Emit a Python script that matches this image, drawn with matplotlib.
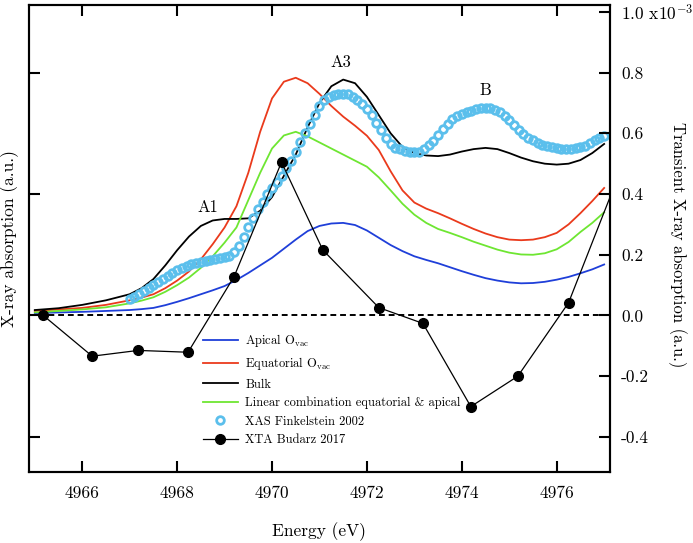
import numpy as np
import matplotlib
matplotlib.use("Agg")
import matplotlib.pyplot as plt

plt.rcParams['font.family'] = 'serif'
plt.rcParams['font.serif'] = ['cmr10', 'DejaVu Serif']
plt.rcParams['mathtext.fontset'] = 'cm'
plt.rcParams['axes.unicode_minus'] = False
plt.rcParams['axes.formatter.use_mathtext'] = True

# simulated spectra (left axis, a.u.)
e_calc = [4965.0, 4965.5, 4966.0, 4966.5, 4967.0, 4967.25, 4967.5, 4967.75, 4968.0, 4968.25,
          4968.5, 4968.75, 4969.0, 4969.25, 4969.5, 4969.75, 4970.0, 4970.25, 4970.5, 4970.75,
          4971.0, 4971.25, 4971.5, 4971.75, 4972.0, 4972.25, 4972.5, 4972.75, 4973.0, 4973.25,
          4973.5, 4973.75, 4974.0, 4974.25, 4974.5, 4974.75, 4975.0, 4975.25, 4975.5, 4975.75,
          4976.0, 4976.25, 4976.5, 4976.75, 4977.0]

apical = [0.008, 0.010, 0.012, 0.015, 0.018, 0.021, 0.025, 0.034, 0.045, 0.057,
          0.070, 0.083, 0.097, 0.117, 0.140, 0.165, 0.190, 0.220, 0.250, 0.278,
          0.295, 0.303, 0.305, 0.298, 0.280, 0.256, 0.232, 0.212, 0.195, 0.183,
          0.172, 0.159, 0.146, 0.134, 0.123, 0.115, 0.109, 0.106, 0.107, 0.111,
          0.118, 0.127, 0.139, 0.152, 0.168]

equatorial = [0.015, 0.020, 0.025, 0.035, 0.050, 0.059, 0.070, 0.090, 0.115, 0.145,
              0.185, 0.235, 0.290, 0.360, 0.470, 0.605, 0.715, 0.770, 0.783, 0.765,
              0.730, 0.690, 0.655, 0.625, 0.592, 0.545, 0.475, 0.412, 0.372, 0.352,
              0.337, 0.320, 0.302, 0.285, 0.270, 0.258, 0.250, 0.248, 0.250, 0.258,
              0.272, 0.300, 0.337, 0.377, 0.420]

bulk = [0.018, 0.024, 0.035, 0.050, 0.070, 0.090, 0.120, 0.165, 0.215, 0.260,
        0.295, 0.313, 0.318, 0.318, 0.320, 0.345, 0.390, 0.460, 0.530, 0.620,
        0.700, 0.755, 0.777, 0.765, 0.720, 0.660, 0.600, 0.555, 0.535, 0.527,
        0.525, 0.530, 0.540, 0.548, 0.552, 0.548, 0.535, 0.520, 0.508, 0.500,
        0.497, 0.500, 0.512, 0.535, 0.565]

lin_comb = [0.010, 0.015, 0.020, 0.027, 0.040, 0.049, 0.060, 0.078, 0.100, 0.125,
            0.157, 0.195, 0.240, 0.290, 0.380, 0.470, 0.550, 0.593, 0.605, 0.590,
            0.570, 0.550, 0.530, 0.510, 0.490, 0.455, 0.412, 0.368, 0.332, 0.305,
            0.285, 0.272, 0.258, 0.243, 0.230, 0.217, 0.207, 0.201, 0.200, 0.205,
            0.218, 0.242, 0.275, 0.305, 0.340]

# XAS Finkelstein 2002
e_xas = [4967.0 + 0.1 * i for i in range(101)]
xas = [0.055, 0.062, 0.070, 0.080, 0.090, 0.100, 0.110, 0.120, 0.130, 0.140,
       0.150, 0.157, 0.163, 0.168, 0.173, 0.177, 0.180, 0.183, 0.186, 0.189,
       0.192, 0.197, 0.210, 0.230, 0.260, 0.290, 0.320, 0.350, 0.375, 0.400,
       0.420, 0.440, 0.460, 0.485, 0.510, 0.540, 0.570, 0.600, 0.630, 0.660,
       0.690, 0.710, 0.720, 0.725, 0.730, 0.730, 0.728, 0.720, 0.710, 0.695,
       0.680, 0.660, 0.635, 0.610, 0.585, 0.565, 0.553, 0.547, 0.543, 0.540,
       0.538, 0.540, 0.548, 0.560, 0.575, 0.595, 0.615, 0.632, 0.646, 0.656,
       0.664, 0.670, 0.675, 0.679, 0.682, 0.684, 0.683, 0.678, 0.670, 0.658,
       0.643, 0.627, 0.612, 0.598, 0.586, 0.577, 0.569, 0.563, 0.558, 0.554,
       0.551, 0.549, 0.548, 0.549, 0.551, 0.554, 0.559, 0.567, 0.577, 0.586,
       0.590]

# XTA Budarz 2017 (right axis, x10^-3)
e_xta = [4965.18, 4966.21, 4967.18, 4968.23, 4969.2, 4970.2, 4971.07, 4972.25,
         4973.18, 4974.19, 4975.18, 4976.25, 4977.25]
xta = [0.0, -0.134, -0.115, -0.121, 0.128, 0.505, 0.216, 0.026,
       -0.026, -0.30, -0.20, 0.042, 0.44]

x_ticks = [4966, 4968, 4970, 4972, 4974, 4976]
r_ticks = [-0.4, -0.2, 0.0, 0.2, 0.4, 0.6, 0.8, 1.0]
r_labels = ['-0.4', '-0.2', '0.0', '0.2', '0.4', '0.6', '0.8', '1.0 x10$^{-3}$']

fig = plt.figure(figsize=(6.93, 5.43), dpi=100)
ax = fig.add_axes([0.042, 0.131, 0.838, 0.860])
ax2 = ax.twinx()

ylim = (-0.515, 1.023)
ax.set_xlim(4964.88, 4977.12)
ax.set_ylim(*ylim)
ax2.set_ylim(*ylim)

ax.axhline(0, color='black', lw=1.4, dashes=(3, 2), zorder=1)
ax.plot(e_calc, apical, color='#1f3fd9', lw=1.3, label='Apical O$_{\\mathrm{vac}}$')
ax.plot(e_calc, equatorial, color='#ea3a1c', lw=1.3, label='Equatorial O$_{\\mathrm{vac}}$')
ax.plot(e_calc, bulk, color='black', lw=1.3, label='Bulk')
ax.plot(e_calc, lin_comb, color='#6ee632', lw=1.3, label='Linear combination equatorial & apical')
ax.plot(e_xas, xas, 'o', mfc='none', mec='#5bbfec', ms=5.5, mew=2.0,
        label='XAS Finkelstein 2002')
ax2.plot(e_xta, xta, '-o', color='black', lw=0.9, ms=7, clip_on=True,
         label='XTA Budarz 2017')

ax.text(4968.65, 0.33, 'A1', ha='center', va='bottom', fontsize=12)
ax.text(4971.45, 0.81, 'A3', ha='center', va='bottom', fontsize=12)
ax.text(4974.5, 0.715, 'B', ha='center', va='bottom', fontsize=12)

ax.set_xticks(x_ticks)
ax.set_xticklabels([str(t) for t in x_ticks])
ax.set_yticks([-0.4, 0.0, 0.4, 0.8])
ax.set_yticklabels([])
ax.tick_params(axis='x', direction='in', length=8, width=1.5, top=True,
               labelsize=12.5, pad=10)
ax.tick_params(axis='y', direction='in', length=8, width=1.5, labelsize=12)
ax2.set_yticks(r_ticks)
ax2.set_yticklabels(r_labels)
ax2.tick_params(axis='y', direction='in', length=8, width=1.5, labelsize=12.5, pad=8)

for a in (ax, ax2):
    for s in a.spines.values():
        s.set_linewidth(1.5)

ax.set_xlabel('Energy (eV)', fontsize=12.5, labelpad=15)
ax.set_ylabel('X-ray absorption (a.u.)', fontsize=12.5, labelpad=4)
ax2.set_ylabel('Transient X-ray absorption (a.u.)', fontsize=12, rotation=270)
ax2.yaxis.label.set_va('center')
ax2.yaxis.label.set_ha('center')
ax2.yaxis.set_label_coords(1.117, 0.486)

h1, l1 = ax.get_legend_handles_labels()
h2, l2 = ax2.get_legend_handles_labels()
ax.legend(h1 + h2, l1 + l2, loc='upper left', bbox_to_anchor=(0.295, 0.305),
          frameon=False, fontsize=9, handlelength=2.8, handletextpad=0.6,
          labelspacing=0.5, borderpad=0.2, borderaxespad=0)

fig.savefig('out.png', dpi=100)
